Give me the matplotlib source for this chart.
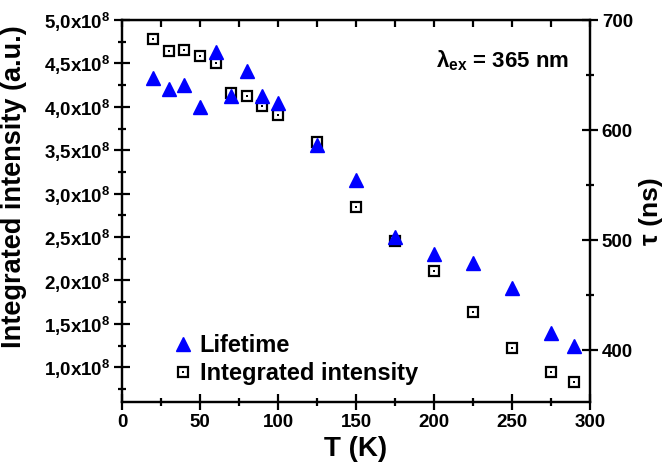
import matplotlib
matplotlib.use('Agg')
import matplotlib.pyplot as plt
from matplotlib.ticker import MultipleLocator, FuncFormatter

plt.rcParams['font.family'] = ['Liberation Sans', 'DejaVu Sans']
plt.rcParams['font.weight'] = 'bold'
plt.rcParams['axes.labelweight'] = 'bold'
plt.rcParams['mathtext.default'] = 'regular'

# temperature (K)
T = [20, 30, 40, 50, 60, 70, 80, 90, 100, 125, 150, 175, 200, 225, 250, 275, 290]
# lifetime tau (ns), right axis
lifetime = [647, 637, 641, 621, 671, 631, 654, 631, 625, 586, 555, 503, 487, 479, 457, 416, 404]
# integrated intensity (x1e8 a.u.), left axis
intensity = [4.78, 4.64, 4.66, 4.58, 4.51, 4.16, 4.12, 4.01, 3.91, 3.59, 2.85, 2.45, 2.11, 1.64, 1.22, 0.94, 0.83]
intensity = [v * 1e8 for v in intensity]

fig = plt.figure(figsize=(6.67, 4.76), dpi=100)
ax = fig.add_axes([122 / 667, 1 - 402 / 476, 468 / 667, 382 / 476])
ax2 = ax.twinx()

sq, = ax.plot(T, intensity, ls='none', marker='s', ms=6.5, mfc='white', mec='black', mew=1.6)
dot, = ax.plot(T, intensity, ls='none', marker='s', ms=1.6, mfc='black', mec='black', mew=0)
tri, = ax2.plot(T, lifetime, ls='none', marker='^', ms=10, color='blue')

ax.set_xlim(0, 300)
ax.set_ylim(0.6e8, 5.0e8)
ax2.set_ylim(353, 700)

ax.xaxis.set_major_locator(MultipleLocator(50))
ax.xaxis.set_minor_locator(MultipleLocator(25))
ax.yaxis.set_major_locator(MultipleLocator(0.5e8))
ax.yaxis.set_minor_locator(MultipleLocator(0.25e8))
ax2.yaxis.set_major_locator(MultipleLocator(100))
ax2.yaxis.set_minor_locator(MultipleLocator(50))

def fmt(v, pos):
    return ('%.1f' % (v / 1e8)).replace('.', ',') + 'x10$^{8}$'

ax.yaxis.set_major_formatter(FuncFormatter(fmt))

for a in (ax, ax2):
    a.tick_params(which='major', direction='inout', length=11, width=1.6, labelsize=13.5, pad=3)
    a.tick_params(which='minor', direction='inout', length=6, width=1.6)
    for s in a.spines.values():
        s.set_linewidth(1.6)
ax.tick_params(top=False, which='both')

top = ax.secondary_xaxis('top')
top.set_xticks(range(0, 301, 25))
top.tick_params(direction='in', length=5, width=1.6, labeltop=False)

ax.set_xlabel('T (K)', fontsize=20, labelpad=4)
ax.set_ylabel('Integrated intensity (a.u.)', fontsize=19.5)
ax2.set_ylabel('τ (ns)', fontsize=19)
ax.yaxis.set_label_coords(-0.203, 0.563)
ax2.yaxis.set_label_coords(1.105, 0.5)

ax.text(0.67, 0.875, 'λ$_{ex}$ = 365 nm', transform=ax.transAxes, fontsize=16)

ax2.legend([tri, (sq, dot)], ['Lifetime', 'Integrated intensity'],
           loc='lower left', bbox_to_anchor=(0.085, 0.02), frameon=False,
           fontsize=17, handlelength=1.0, handletextpad=0.2, labelspacing=0.2,
           borderaxespad=0)

fig.savefig('out.png', dpi=100)
